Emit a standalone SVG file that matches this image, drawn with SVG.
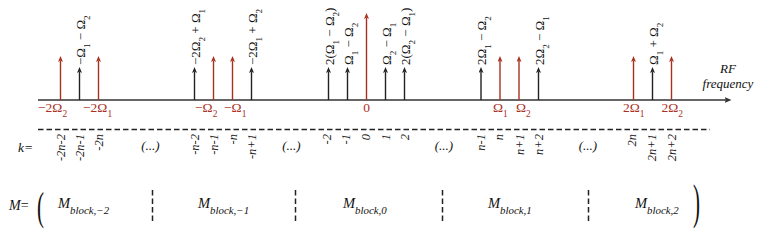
<svg xmlns="http://www.w3.org/2000/svg" width="763" height="251" viewBox="0 0 763 251" font-family="'Liberation Serif', 'Times New Roman', serif">
<style>
text, tspan{font-family:'Liberation Serif','Times New Roman','DejaVu Serif',serif;}
.red{stroke:#a8301f;stroke-width:1.4;fill:none;}
.blk{stroke:#222;stroke-width:1.4;fill:none;}
.axis{stroke:#333;stroke-width:1.7;fill:none;}
.dash{stroke:#222;stroke-width:1.5;stroke-dasharray:5.5,3;fill:none;}
.rl{fill:#a8301f;font-size:13.5px;}
.vl{fill:#111;font-size:13px;}
.kl{fill:#222;font-size:12.5px;font-style:italic;text-anchor:end;}
.it{font-style:italic;fill:#111;}
.sub{baseline-shift:sub;font-size:70%;}
.mb{fill:#111;font-size:14.5px;font-style:italic;}
.mb .sub{font-size:75%;}
</style>
<defs>
<marker id="ar" viewBox="0 0 6 5" refX="1.5" refY="2.5" markerWidth="6" markerHeight="5" markerUnits="userSpaceOnUse" orient="auto"><path d="M0,0 L6,2.5 L0,5 L1.5,2.5 z" fill="#a8301f"/></marker>
<marker id="ab" viewBox="0 0 6 5" refX="1.5" refY="2.5" markerWidth="6" markerHeight="5" markerUnits="userSpaceOnUse" orient="auto"><path d="M0,0 L6,2.5 L0,5 L1.5,2.5 z" fill="#222"/></marker>
<marker id="ax" viewBox="0 0 7 6" refX="1.5" refY="3" markerWidth="7" markerHeight="6" markerUnits="userSpaceOnUse" orient="auto"><path d="M0,0 L7,3 L0,6 L1.5,3 z" fill="#333"/></marker>
</defs>

<g id="axis">
<line class="axis" x1="38" y1="100" x2="726" y2="100" marker-end="url(#ax)"/>
<text class="it" x="728" y="73" font-size="13" text-anchor="middle">RF</text>
<text class="it" x="728" y="88" font-size="13" text-anchor="middle">frequency</text>
</g>

<g id="connectors">
<line class="red" x1="60.5" y1="100" x2="60.5" y2="60.5" marker-end="url(#ar)"/>
<line class="blk" x1="79.5" y1="100" x2="79.5" y2="71.5" marker-end="url(#ab)"/>
<line class="red" x1="98.5" y1="100" x2="98.5" y2="60.5" marker-end="url(#ar)"/>
<line class="blk" x1="194.5" y1="100" x2="194.5" y2="71.5" marker-end="url(#ab)"/>
<line class="red" x1="213.5" y1="100" x2="213.5" y2="60.5" marker-end="url(#ar)"/>
<line class="red" x1="232.5" y1="100" x2="232.5" y2="60.5" marker-end="url(#ar)"/>
<line class="blk" x1="251.5" y1="100" x2="251.5" y2="71.5" marker-end="url(#ab)"/>
<line class="blk" x1="328.5" y1="100" x2="328.5" y2="71.5" marker-end="url(#ab)"/>
<line class="blk" x1="347.5" y1="100" x2="347.5" y2="71.5" marker-end="url(#ab)"/>
<line class="red" x1="366.5" y1="100" x2="366.5" y2="17.5" marker-end="url(#ar)"/>
<line class="blk" x1="385.5" y1="100" x2="385.5" y2="71.5" marker-end="url(#ab)"/>
<line class="blk" x1="404.5" y1="100" x2="404.5" y2="71.5" marker-end="url(#ab)"/>
<line class="blk" x1="481" y1="100" x2="481" y2="71.5" marker-end="url(#ab)"/>
<line class="red" x1="500" y1="100" x2="500" y2="60.5" marker-end="url(#ar)"/>
<line class="red" x1="519" y1="100" x2="519" y2="60.5" marker-end="url(#ar)"/>
<line class="blk" x1="538.5" y1="100" x2="538.5" y2="71.5" marker-end="url(#ab)"/>
<line class="red" x1="633.5" y1="100" x2="633.5" y2="60.5" marker-end="url(#ar)"/>
<line class="blk" x1="652.5" y1="100" x2="652.5" y2="71.5" marker-end="url(#ab)"/>
<line class="red" x1="671.5" y1="100" x2="671.5" y2="60.5" marker-end="url(#ar)"/>
</g>

<g id="red-labels">
<text class="rl" x="38" y="112">−2Ω<tspan class="sub">2</tspan></text>
<text class="rl" x="83" y="112">−2Ω<tspan class="sub">1</tspan></text>
<text class="rl" x="195" y="112">−Ω<tspan class="sub">2</tspan></text>
<text class="rl" x="224" y="112">−Ω<tspan class="sub">1</tspan></text>
<text class="rl" x="366.5" y="112" text-anchor="middle">0</text>
<text class="rl" x="493" y="112">Ω<tspan class="sub">1</tspan></text>
<text class="rl" x="516" y="112">Ω<tspan class="sub">2</tspan></text>
<text class="rl" x="623" y="112">2Ω<tspan class="sub">1</tspan></text>
<text class="rl" x="661.5" y="112">2Ω<tspan class="sub">2</tspan></text>
</g>

<g id="mix-labels">
<text class="vl" transform="translate(84.5,65) rotate(-90)">−Ω<tspan class="sub">1</tspan> − Ω<tspan class="sub">2</tspan></text>
<text class="vl" transform="translate(199.5,65) rotate(-90)">−2Ω<tspan class="sub">2</tspan> + Ω<tspan class="sub">1</tspan></text>
<text class="vl" transform="translate(256.5,65) rotate(-90)">−2Ω<tspan class="sub">1</tspan> + Ω<tspan class="sub">2</tspan></text>
<text class="vl" transform="translate(333.5,65) rotate(-90)">2(Ω<tspan class="sub">1</tspan> − Ω<tspan class="sub">2</tspan>)</text>
<text class="vl" transform="translate(352.5,65) rotate(-90)">Ω<tspan class="sub">1</tspan> − Ω<tspan class="sub">2</tspan></text>
<text class="vl" transform="translate(390.5,65) rotate(-90)">Ω<tspan class="sub">2</tspan> − Ω<tspan class="sub">1</tspan></text>
<text class="vl" transform="translate(409.5,65) rotate(-90)">2(Ω<tspan class="sub">2</tspan> − Ω<tspan class="sub">1</tspan>)</text>
<text class="vl" transform="translate(486,65) rotate(-90)">2Ω<tspan class="sub">1</tspan> − Ω<tspan class="sub">2</tspan></text>
<text class="vl" transform="translate(543.5,65) rotate(-90)">2Ω<tspan class="sub">2</tspan> − Ω<tspan class="sub">1</tspan></text>
<text class="vl" transform="translate(657.5,65) rotate(-90)">Ω<tspan class="sub">1</tspan> + Ω<tspan class="sub">2</tspan></text>
</g>

<g id="k-row">
<line class="dash" x1="38" y1="129.5" x2="710" y2="129.5"/>
<text class="it" x="18" y="152" font-size="13.5">k=</text>
<text class="kl" transform="translate(65,134) rotate(-90)">-2n-2</text>
<text class="kl" transform="translate(84,134) rotate(-90)">-2n-1</text>
<text class="kl" transform="translate(103,134) rotate(-90)">-2n</text>
<text class="kl" transform="translate(199,134) rotate(-90)">-n-2</text>
<text class="kl" transform="translate(218,134) rotate(-90)">-n-1</text>
<text class="kl" transform="translate(237,134) rotate(-90)">-n</text>
<text class="kl" transform="translate(256,134) rotate(-90)">-n+1</text>
<text class="kl" transform="translate(331,134) rotate(-90)">-2</text>
<text class="kl" transform="translate(350,134) rotate(-90)">-1</text>
<text class="kl" transform="translate(370,134) rotate(-90)">0</text>
<text class="kl" transform="translate(390,134) rotate(-90)">1</text>
<text class="kl" transform="translate(409,134) rotate(-90)">2</text>
<text class="kl" transform="translate(485,134) rotate(-90)">n-1</text>
<text class="kl" transform="translate(503,134) rotate(-90)">n</text>
<text class="kl" transform="translate(524,134) rotate(-90)">n+1</text>
<text class="kl" transform="translate(543,134) rotate(-90)">n+2</text>
<text class="kl" transform="translate(636,134) rotate(-90)">2n</text>
<text class="kl" transform="translate(656,134) rotate(-90)">2n+1</text>
<text class="kl" transform="translate(676,134) rotate(-90)">2n+2</text>
<text class="it" x="150.5" y="150" font-size="13" text-anchor="middle">(...)</text>
<text class="it" x="291.5" y="150" font-size="13" text-anchor="middle">(...)</text>
<text class="it" x="444" y="150" font-size="13" text-anchor="middle">(...)</text>
<text class="it" x="588" y="150" font-size="13" text-anchor="middle">(...)</text>
</g>

<g id="matrix-row">
<text x="9" y="210" font-size="14" fill="#111"><tspan font-style="italic">M</tspan>=</text>
<text transform="translate(37,220) scale(0.75,1.42)" font-size="28" fill="#111">(</text>
<text transform="translate(693,218.3) scale(0.75,1.76)" font-size="28" fill="#111">)</text>
<text class="mb" x="58" y="208">M<tspan class="sub">block,−2</tspan></text>
<text class="mb" x="198" y="208">M<tspan class="sub">block,−1</tspan></text>
<text class="mb" x="343" y="208">M<tspan class="sub">block,0</tspan></text>
<text class="mb" x="488" y="208">M<tspan class="sub">block,1</tspan></text>
<text class="mb" x="635" y="208">M<tspan class="sub">block,2</tspan></text>
<line class="dash" x1="152.5" y1="190" x2="152.5" y2="223"/>
<line class="dash" x1="295.5" y1="190" x2="295.5" y2="223"/>
<line class="dash" x1="442.5" y1="190" x2="442.5" y2="223"/>
<line class="dash" x1="588.5" y1="190" x2="588.5" y2="223"/>
</g>
</svg>
